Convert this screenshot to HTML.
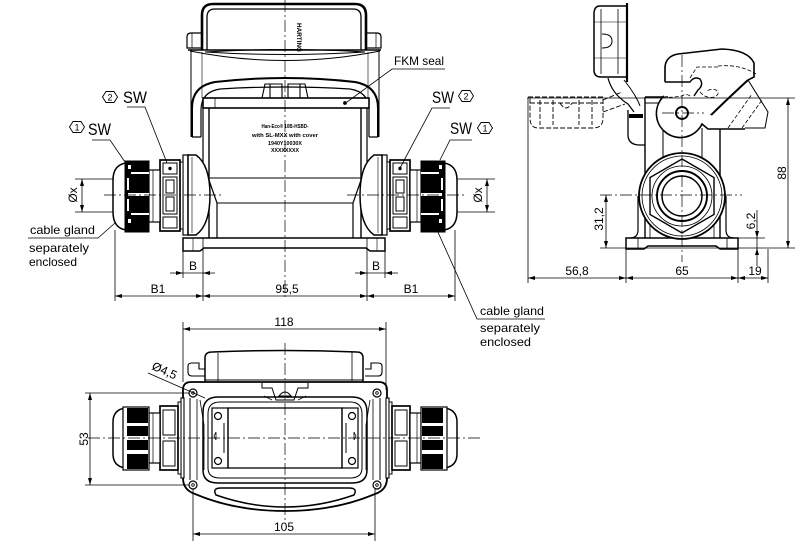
<!DOCTYPE html>
<html><head><meta charset="utf-8"><style>
html,body{margin:0;padding:0;background:#fff}
svg{display:block}
text{font-family:"Liberation Sans","DejaVu Sans",sans-serif;fill:#000;stroke:none}
</style></head><body>
<svg width="800" height="555" viewBox="0 0 800 555" xmlns="http://www.w3.org/2000/svg">
<rect width="800" height="555" fill="#fff"/>
<defs>
<g id="glandF" stroke="#000" fill="none">
 <rect x="183" y="155" width="5" height="80" fill="#fff" stroke-width="1.2"/>
 <path d="M188,155 H196 Q210,165 210,195 Q210,225 196,235 H188 Z" fill="#fff" stroke-width="1.5"/>
 <line x1="192" y1="157" x2="192" y2="233" stroke-width="0.6"/>
 <rect x="180" y="162" width="3" height="67" fill="#fff" stroke-width="1"/>
 <rect x="160" y="160" width="20" height="71" fill="#fff" stroke-width="1.7"/>
 <rect x="163" y="163" width="14" height="11" stroke-width="1"/>
 <circle cx="170" cy="168.5" r="1.7" fill="#000" stroke="none"/>
 <path d="M163,177 H177 V214 H163 Z M166,180 H174 V193 H166 Z M166,197 H174 V211 H166 Z" stroke-width="1"/>
 <rect x="163" y="217" width="14" height="11" stroke-width="1"/>
 <rect x="149" y="170" width="11" height="52" fill="#fff" stroke-width="1.2"/>
 <line x1="153" y1="170" x2="153" y2="222" stroke-width="0.7"/>
 <path d="M126,163 Q113,165 113,180 V212 Q113,228 126,230" fill="#fff" stroke-width="1.5"/>
 <rect x="125" y="161" width="24" height="71" fill="#000" stroke-width="1"/>
 <g fill="#fff" stroke="none">
  <rect x="128" y="165" width="3" height="4"/>
  <rect x="131" y="172" width="18" height="2"/>
  <rect x="128" y="193" width="21" height="3"/>
  <rect x="131" y="213" width="18" height="2"/>
  <rect x="128" y="219" width="3" height="4"/>
  <rect x="127" y="178" width="2" height="12"/>
  <rect x="127" y="199" width="2" height="12"/>
 </g>
</g>
<g id="glandT" stroke="#000" fill="none">
 <rect x="181" y="398" width="3" height="80" fill="#fff" stroke-width="1.1"/>
 <rect x="178" y="402" width="3" height="72" fill="#fff" stroke-width="1"/>
 <rect x="160" y="406" width="18" height="64" fill="#fff" stroke-width="1.7"/>
 <rect x="163" y="410" width="12" height="25" stroke-width="1"/>
 <rect x="163" y="441" width="12" height="25" stroke-width="1"/>
 <rect x="149" y="413" width="11" height="50" fill="#fff" stroke-width="1.2"/>
 <line x1="153" y1="413" x2="153" y2="463" stroke-width="0.7"/>
 <path d="M125,408 Q113,410 113,422 V454 Q113,466 125,468" fill="#fff" stroke-width="1.5"/>
 <rect x="123" y="407" width="26" height="63" fill="#fff" stroke-width="1.2"/>
 <g fill="#000" stroke="none">
  <rect x="127" y="408" width="21" height="15"/>
  <rect x="127" y="426" width="21" height="10"/>
  <rect x="127" y="440" width="21" height="10"/>
  <rect x="127" y="454" width="21" height="15"/>
 </g>
</g>
<g id="tvHalf" stroke="#000" fill="none">
 <circle cx="193" cy="393" r="4" stroke-width="1.2"/>
 <circle cx="193" cy="393" r="1.3" stroke-width="0.8"/>
 <circle cx="193" cy="485" r="4" stroke-width="1.2"/>
 <circle cx="193" cy="485" r="1.3" stroke-width="0.8"/>
 <line x1="190" y1="398" x2="190" y2="480" stroke-width="1"/>
 <line x1="197" y1="399" x2="197" y2="480" stroke-width="0.8"/>
 <path d="M200,400 L204,425 V470" stroke-width="0.8"/>
 <rect x="212" y="408" width="16" height="60" stroke-width="1.2"/>
 <circle cx="218" cy="416" r="3.5" stroke-width="1.2"/>
 <circle cx="218" cy="461" r="3.5" stroke-width="1.2"/>
 <line x1="224" y1="423" x2="224" y2="453" stroke-width="1"/>
 <path d="M214,436 L216,432 L216,440 Z" stroke-width="0.8"/>
 <path d="M205,376 H192 Q188,376 188,372 V366 Q188,363 192,363 H199 V369 H205" stroke-width="1.1"/>
</g>
</defs>

<!-- ============ FRONT VIEW ============ -->
<g stroke="#000" fill="none">
 <!-- handle -->
 <path d="M202,50 V15 Q202,4 213,4 H355 Q366,4 366,15 V50" stroke-width="2.6"/>
 <path d="M207,50 V17 Q207,9 215,9 H353 Q361,9 361,17 V50" stroke-width="1.3"/>
 <path d="M202,33 H191 Q187,33 187,37 V48 H202" stroke-width="1.2"/>
 <line x1="192" y1="33" x2="192" y2="48" stroke-width="0.7"/>
 <path d="M366,33 H377 Q381,33 381,37 V48 H366" stroke-width="1.2"/>
 <line x1="376" y1="33" x2="376" y2="48" stroke-width="0.7"/>
 <line x1="188" y1="50" x2="381" y2="50" stroke-width="1.5"/>
 <path d="M205,52 Q285,47 365,52 Q285,57 205,52 Z" stroke-width="1"/>
 <path d="M190,51 Q285,70 380,51" stroke-width="1"/>
 <line x1="191" y1="50" x2="191" y2="137" stroke-width="1"/>
 <line x1="379" y1="50" x2="379" y2="137" stroke-width="1"/>
 <line x1="202" y1="52" x2="202" y2="98" stroke-width="0.6"/>
 <line x1="368" y1="52" x2="368" y2="98" stroke-width="0.6"/>
 <!-- lever -->
 <path d="M192,137 V108 Q192,86 215,82 Q250,78 285,78 Q320,78 355,82 Q378,86 378,108 V137" stroke-width="2"/>
 <path d="M201,137 V110 Q201,92 220,89 Q250,87 285,87 Q320,87 350,89 Q369,92 369,110 V137" stroke-width="1.2"/>
 <path d="M192,137 H201 M369,137 H378" stroke-width="1.2"/>
 <path d="M262,98 L265,84 H282 V98 M270,84 V98" stroke-width="1.1"/>
 <path d="M288,98 V84 H305 L308,98 M300,84 V98" stroke-width="1.1"/>
 <!-- cover plate -->
 <rect x="203" y="98" width="166" height="10" stroke-width="1.6" fill="#fff"/>
 <line x1="215" y1="98" x2="215" y2="108" stroke-width="0.7"/>
 <circle cx="345" cy="103" r="1.9" fill="#000" stroke="none"/>
 <!-- body -->
 <path d="M203,108 V163 L217,203 V238" stroke-width="1.2"/>
 <path d="M367,108 V163 L353,203 V238" stroke-width="1.2"/>
 <line x1="209" y1="108" x2="209" y2="238" stroke-width="1.4"/>
 <line x1="361" y1="108" x2="361" y2="238" stroke-width="1.4"/>
 <line x1="209" y1="178" x2="361" y2="178" stroke-width="1"/>
 <line x1="217" y1="203" x2="353" y2="203" stroke-width="1"/>
 <!-- base -->
 <path d="M183,238 H385 V251 H370 L366,248 H204 L200,251 H183 Z" stroke-width="1.5" fill="#fff"/>
 <line x1="193" y1="238" x2="193" y2="251" stroke-width="0.6"/>
 <line x1="377" y1="238" x2="377" y2="251" stroke-width="0.6"/>
</g>
<use href="#glandF"/>
<use href="#glandF" transform="translate(570,0) scale(-1,1)"/>
<!-- label -->
<g font-weight="bold" font-size="5.5" text-anchor="middle">
 <text x="285" y="128" textLength="47" lengthAdjust="spacingAndGlyphs">Han-Eco® 10B-HSBD-</text>
 <text x="285" y="137" textLength="66" lengthAdjust="spacingAndGlyphs">with SL-MXX with cover</text>
 <text x="285" y="145" textLength="34" lengthAdjust="spacingAndGlyphs">1940Y10030X</text>
 <text x="285" y="152" textLength="28" lengthAdjust="spacingAndGlyphs">XXXXXXXX</text>
</g>
<text transform="translate(297,23) rotate(90)" font-size="6.5" font-weight="bold" textLength="29" lengthAdjust="spacingAndGlyphs">HARTING</text>

<!-- center lines front -->
<g stroke="#000" stroke-width="0.7" fill="none" stroke-dasharray="12,3,2,3">
 <line x1="285" y1="0" x2="285" y2="300"/>
 <line x1="104" y1="195" x2="223" y2="195"/>
 <line x1="347" y1="195" x2="467" y2="195"/>
</g>

<!-- front dims -->
<g stroke="#000" stroke-width="0.8" fill="none">
 <line x1="115" y1="230" x2="115" y2="301"/>
 <line x1="183" y1="251" x2="183" y2="278"/>
 <line x1="203" y1="238" x2="203" y2="301"/>
 <line x1="367" y1="238" x2="367" y2="301"/>
 <line x1="385" y1="251" x2="385" y2="278"/>
 <line x1="455" y1="230" x2="455" y2="301"/>
 <line x1="170" y1="273" x2="215" y2="273"/>
 <line x1="355" y1="273" x2="398" y2="273"/>
 <line x1="115" y1="296" x2="455" y2="296"/>
 <line x1="75" y1="179" x2="113" y2="179"/>
 <line x1="75" y1="212" x2="113" y2="212"/>
 <line x1="82" y1="179" x2="82" y2="212"/>
 <line x1="457" y1="179" x2="495" y2="179"/>
 <line x1="457" y1="212" x2="495" y2="212"/>
 <line x1="487" y1="179" x2="487" y2="212"/>
 <!-- leaders -->
 <path d="M92,140 H110 L125,162"/>
 <path d="M127,107 H145 L167,163"/>
 <path d="M450,108 H432 L400,168"/>
 <path d="M472,140 H450 L440,160"/>
 <path d="M445,69 H392 L347,102"/>
 <path d="M28,238 H98 L115,223"/>
 <path d="M545,319 H477 L437,230"/>
</g>
<g fill="#000">
 <polygon points="183,273 176,271 176,275"/><polygon points="203,273 210,271 210,275"/>
 <polygon points="367,273 360,271 360,275"/><polygon points="385,273 392,271 392,275"/>
 <polygon points="115,296 122,294 122,298"/><polygon points="203,296 196,294 196,298"/>
 <polygon points="203,296 210,294 210,298"/><polygon points="367,296 360,294 360,298"/>
 <polygon points="367,296 374,294 374,298"/><polygon points="455,296 448,294 448,298"/>
 <polygon points="82,179 80,186 84,186"/><polygon points="82,212 80,205 84,205"/>
 <polygon points="487,179 485,186 489,186"/><polygon points="487,212 485,205 489,205"/>
</g>
<g font-size="12" text-anchor="middle">
 <text x="193" y="270">B</text>
 <text x="376" y="270">B</text>
 <text x="158" y="293">B1</text>
 <text x="287" y="293">95,5</text>
 <text x="411" y="293">B1</text>
 <text transform="translate(77,195) rotate(-90)">Øx</text>
 <text transform="translate(482,195) rotate(-90)">Øx</text>
</g>
<!-- SW labels -->
<g stroke="#000" stroke-width="0.9" fill="none">
 <polygon points="69.5,127 73,121.5 81,121.5 84.5,127 81,132.5 73,132.5"/>
 <polygon points="102.5,97 106,91.5 114,91.5 117.5,97 114,102.5 106,102.5"/>
 <polygon points="458.5,96 462,90.5 470,90.5 473.5,96 470,101.5 462,101.5"/>
 <polygon points="477.5,128 481,122.5 489,122.5 492.5,128 489,133.5 481,133.5"/>
</g>
<g font-size="9" text-anchor="middle">
 <text x="77" y="130.5">1</text>
 <text x="110" y="100.5">2</text>
 <text x="466" y="99.5">2</text>
 <text x="485" y="131.5">1</text>
</g>
<g font-size="17">
 <text x="88" y="135" textLength="23" lengthAdjust="spacingAndGlyphs">SW</text>
 <text x="123" y="103" textLength="24" lengthAdjust="spacingAndGlyphs">SW</text>
 <text x="432" y="103" textLength="22" lengthAdjust="spacingAndGlyphs">SW</text>
 <text x="450" y="134" textLength="22" lengthAdjust="spacingAndGlyphs">SW</text>
</g>
<g font-size="12">
 <text x="394" y="65" textLength="50" lengthAdjust="spacingAndGlyphs">FKM seal</text>
 <text x="30" y="234" textLength="65" lengthAdjust="spacingAndGlyphs">cable gland</text>
 <text x="29" y="252" textLength="60" lengthAdjust="spacingAndGlyphs">separately</text>
 <text x="29" y="266" textLength="48" lengthAdjust="spacingAndGlyphs">enclosed</text>
 <text x="480" y="315" textLength="64" lengthAdjust="spacingAndGlyphs">cable gland</text>
 <text x="480" y="332" textLength="60" lengthAdjust="spacingAndGlyphs">separately</text>
 <text x="480" y="346" textLength="51" lengthAdjust="spacingAndGlyphs">enclosed</text>
</g>

<!-- ============ SIDE VIEW ============ -->
<g stroke="#000" fill="none">
 <!-- dashed cover -->
 <g stroke-dasharray="5,2" stroke-width="0.9">
  <path d="M528,97 H603 V118 Q603,128 593,128 H538 Q530,128 530,118 V97"/>
  <line x1="540" y1="100" x2="540" y2="125"/>
  <line x1="553" y1="100" x2="553" y2="125"/>
  <line x1="579" y1="100" x2="579" y2="125"/>
  <line x1="592" y1="100" x2="592" y2="125"/>
  <path d="M560,103 Q566,113 572,103"/>
  <line x1="530" y1="103" x2="603" y2="103"/>
  <path d="M603,100 L622,92 M603,112 L625,104"/>
 </g>
 <!-- hood -->
 <path d="M627,6 H600 Q594,6 594,14 V70 Q594,77 601,77 H627" stroke-width="1.5"/>
 <line x1="627" y1="3" x2="627" y2="82" stroke-width="2.2"/>
 <line x1="601" y1="9" x2="601" y2="74" stroke-width="0.8"/>
 <line x1="618" y1="9" x2="618" y2="74" stroke-width="0.8"/>
 <line x1="594" y1="22" x2="627" y2="22" stroke-width="0.6"/>
 <line x1="594" y1="58" x2="627" y2="58" stroke-width="0.6"/>
 <path d="M602,34 Q612,34 612,41 Q612,48 602,48" stroke-width="1"/>
 <path d="M608,78 Q612,94 628,104 L634,112" stroke-width="1.2"/>
 <path d="M624,80 Q636,95 640,106" stroke-width="1"/>
 <path d="M628,110 V136 Q629,145 640,145 H645" stroke-width="1.3"/>
 <rect x="629" y="114" width="14" height="4" fill="#000" stroke="none"/>
 <!-- body -->
 <path d="M645,97 H668" stroke-width="1.5"/>
 <line x1="645" y1="97" x2="645" y2="238" stroke-width="1.4"/>
 <line x1="663" y1="97" x2="663" y2="103" stroke-width="1"/>
 <line x1="645" y1="103" x2="663" y2="103" stroke-width="1"/>
 <line x1="720" y1="128" x2="720" y2="238" stroke-width="1.4"/>
 <line x1="663" y1="128" x2="663" y2="160" stroke-width="1"/>
 <line x1="702" y1="128" x2="702" y2="160" stroke-width="1"/>
 <path d="M638,196 V230 Q638,238 630,238" stroke-width="1.2"/>
 <path d="M726,196 V230 Q726,238 734,238" stroke-width="1.2"/>
 <line x1="650" y1="200" x2="650" y2="238" stroke-width="0.8"/>
 <line x1="714" y1="200" x2="714" y2="238" stroke-width="0.8"/>
 <!-- base -->
 <path d="M626,238 H738 V249 H720 L716,246 H648 L644,249 H626 Z" stroke-width="1.5" fill="#fff"/>
 <line x1="638" y1="238" x2="638" y2="249" stroke-width="0.8"/>
 <line x1="727" y1="238" x2="727" y2="249" stroke-width="0.8"/>
 <!-- gland circles -->
 <circle cx="682" cy="196" r="43" stroke-width="1.8" fill="#fff"/>
 <circle cx="682" cy="196" r="40" stroke-width="0.8"/>
 <polygon points="682,159 714,177.5 714,214.5 682,233 650,214.5 650,177.5" stroke-width="1.4"/>
 <circle cx="682" cy="196" r="30" stroke-width="0.8"/>
 <circle cx="682" cy="196" r="25" stroke-width="1.9"/>
 <circle cx="682" cy="196" r="20" stroke-width="1.5"/>
 <!-- lever -->
 <path d="M665,82 V67 Q666,56 678,54 L722,49 Q748,50 754,63 V77 L748,80" stroke-width="1.6" fill="#fff"/>
 <path d="M665,82 H690 Q694,76 700,79 Q704,85 698,90 L694,96" stroke-width="1.4"/>
 <path d="M702,124 Q722,104 748,80" stroke-width="2"/>
 <path d="M748,80 L768,112 L765,128 H745" stroke-width="1"/>
 <path d="M664,96 A24,24 0 1 0 702,124 L708,129 H745" stroke-width="1.6" fill="#fff"/>
 <circle cx="682" cy="113" r="6" stroke-width="1.9" fill="#fff"/>
 <g stroke-dasharray="4,2" stroke-width="0.8">
  <path d="M690,78 L697,67 H718"/>
  <path d="M700,92 Q706,99 714,97 Q721,94 716,90 Q710,88 706,92"/>
  <path d="M690,96 Q686,93 682,96 Q670,98 664,97"/>
  <path d="M718,66 Q740,64 756,74"/>
  <path d="M728,128 L752,94 M742,128 L762,100"/>
 </g>
</g>
<g stroke="#000" stroke-width="0.7" fill="none" stroke-dasharray="12,3,2,3">
 <line x1="682" y1="55" x2="682" y2="262"/>
 <line x1="600" y1="195" x2="742" y2="195"/>
 <line x1="662" y1="113" x2="704" y2="113"/>
</g>
<!-- side dims -->
<g stroke="#000" stroke-width="0.8" fill="none">
 <line x1="527" y1="98" x2="795" y2="98"/>
 <line x1="600" y1="248" x2="795" y2="248"/>
 <line x1="737" y1="238" x2="765" y2="238"/>
 <line x1="528" y1="98" x2="528" y2="283"/>
 <line x1="626" y1="249" x2="626" y2="283"/>
 <line x1="738" y1="249" x2="738" y2="283"/>
 <line x1="768" y1="249" x2="768" y2="283"/>
 <line x1="528" y1="278" x2="768" y2="278"/>
 <line x1="788" y1="98" x2="788" y2="248"/>
 <line x1="606" y1="195" x2="606" y2="248"/>
 <line x1="757" y1="210" x2="757" y2="266"/>
</g>
<g fill="#000">
 <polygon points="788,98 786,105 790,105"/><polygon points="788,248 786,241 790,241"/>
 <polygon points="606,195 604,202 608,202"/><polygon points="606,248 604,241 608,241"/>
 <polygon points="757,238 755,231 759,231"/><polygon points="757,248 755,255 759,255"/>
 <polygon points="528,278 535,276 535,280"/><polygon points="626,278 619,276 619,280"/>
 <polygon points="626,278 633,276 633,280"/><polygon points="738,278 731,276 731,280"/>
 <polygon points="738,278 745,276 745,280"/><polygon points="768,278 761,276 761,280"/>
</g>
<g font-size="12" text-anchor="middle">
 <text x="577" y="275">56,8</text>
 <text x="682" y="275">65</text>
 <text x="755" y="275">19</text>
 <text transform="translate(786,173) rotate(-90)">88</text>
 <text transform="translate(603,219) rotate(-90)">31,2</text>
 <text transform="translate(755,221) rotate(-90)">6,2</text>
</g>

<!-- ============ TOP VIEW ============ -->
<g stroke="#000" fill="none">
 <path d="M205,383 V358 Q205,352 212,352 Q285,349 357,352 Q363,352 363,358 V383" stroke-width="1.5"/>
 <line x1="218" y1="353" x2="218" y2="381" stroke-width="0.8"/>
 <line x1="352" y1="352" x2="352" y2="381" stroke-width="0.8"/>
 <line x1="205" y1="380" x2="363" y2="380" stroke-width="1"/>
 <path d="M191,382 H379 Q387,382 387,390 V478 Q387,490 375,494 Q335,511 285,511 Q235,511 195,494 Q183,490 183,478 V390 Q183,382 191,382 Z" stroke-width="1.8" fill="#fff"/>
 <path d="M203,412 Q203,397 218,397 H352 Q367,397 367,412 V470 Q367,483 352,483 H218 Q203,483 203,470 Z" stroke-width="1.5"/>
 <path d="M208,414 Q208,402 220,402 H350 Q362,402 362,414 V468 Q362,478 350,478 H220 Q208,478 208,468 Z" stroke-width="1"/>
 <rect x="228" y="408" width="114" height="60" stroke-width="1.3"/>
 <path d="M262,383 V388 H272 L276,400 H294 L298,388 H308 V383" stroke-width="1"/>
 <path d="M279,396 Q285,388 291,396 Z" stroke-width="1"/>
 <path d="M272,400 L264,396 M298,400 L306,396" stroke-width="0.7"/>
 <path d="M221,488 H349 Q358,488 354,495 Q320,507 285,507 Q250,507 216,495 Q212,488 221,488 Z" stroke-width="1.5"/>
</g>
<use href="#tvHalf"/>
<use href="#tvHalf" transform="translate(570,0) scale(-1,1)"/>
<use href="#glandT"/>
<use href="#glandT" transform="translate(570,0) scale(-1,1)"/>
<g stroke="#000" stroke-width="0.7" fill="none" stroke-dasharray="12,3,2,3">
 <line x1="88" y1="438" x2="482" y2="438"/>
 <line x1="285" y1="343" x2="285" y2="520"/>
</g>
<g stroke="#000" stroke-width="0.8" fill="none">
 <line x1="183" y1="322" x2="183" y2="382"/>
 <line x1="386" y1="322" x2="386" y2="390"/>
 <line x1="183" y1="329" x2="386" y2="329"/>
 <line x1="193" y1="489" x2="193" y2="541"/>
 <line x1="375" y1="489" x2="375" y2="541"/>
 <line x1="193" y1="534" x2="375" y2="534"/>
 <line x1="85" y1="393" x2="189" y2="393"/>
 <line x1="85" y1="485" x2="189" y2="485"/>
 <line x1="90" y1="393" x2="90" y2="485"/>
 <line x1="148" y1="373" x2="205" y2="398"/>
</g>
<g fill="#000">
 <polygon points="183,329 190,327 190,331"/><polygon points="386,329 379,327 379,331"/>
 <polygon points="193,534 200,532 200,536"/><polygon points="375,534 368,532 368,536"/>
 <polygon points="90,393 88,400 92,400"/><polygon points="90,485 88,478 92,478"/>
</g>
<g font-size="12" text-anchor="middle">
 <text x="284" y="326">118</text>
 <text x="284" y="531">105</text>
 <text transform="translate(88,439) rotate(-90)">53</text>
</g>
<text transform="translate(151,369) rotate(24)" font-size="12">Ø4,5</text>
</svg>
</body></html>
